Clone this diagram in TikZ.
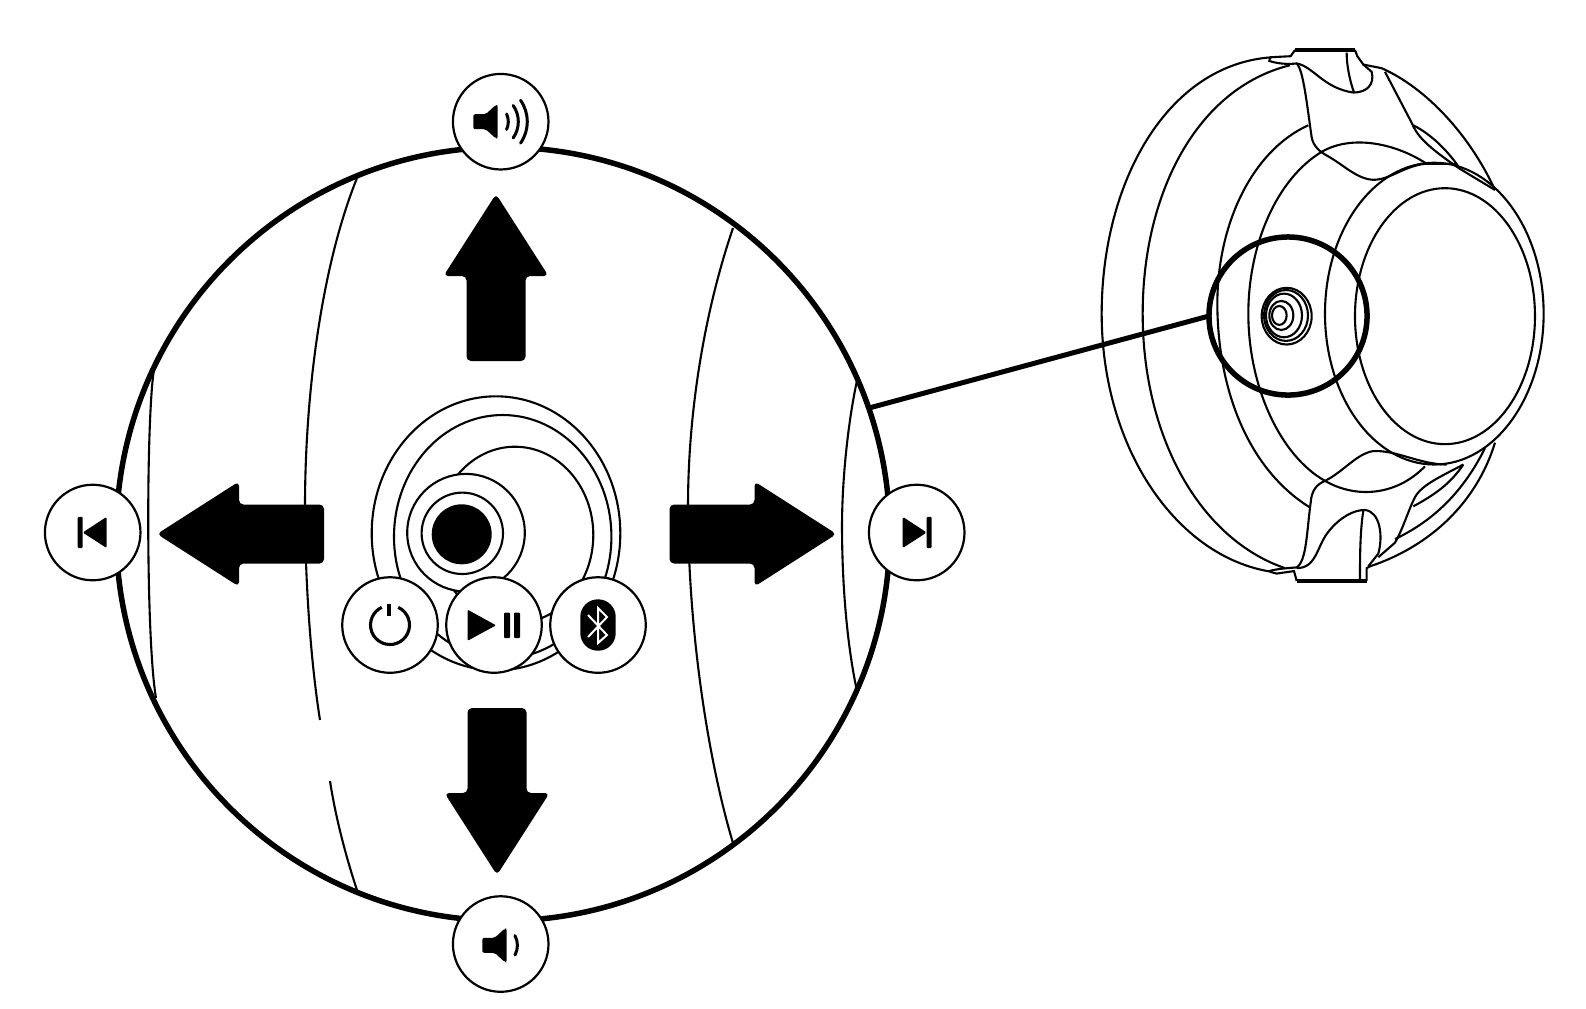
\documentclass[tikz,border=0pt]{standalone}
\usetikzlibrary{shapes,arrows,positioning,calc}

\tikzset{
    % speaker cone, drawn around the button centre
    speakercone/.pic={
        \fill[rounded corners=0.02cm] (-27.4,-7.5) -- (-15,-7.5) -- (-5,-16.7) -- (-3,-16.7) -- (-3,16.7) -- (-5,16.7) -- (-15,7.5) -- (-27.4,7.5) -- cycle;
    },
    skipicon/.pic={
        \fill[rounded corners=0.015cm] (-14,-15.7) -- (10,0) -- (-14,15.5) -- cycle;
        \fill[rounded corners=0.01cm] (10,-15.7) rectangle (15,15.5);
    },
    % tip at the origin, body below it
    bigarrow/.pic={
        \fill[rounded corners=0.045cm] (0,-2) -- (52.5,80) -- (29.5,80) -- (29.5,165) -- (-29.5,165) -- (-29.5,80) -- (-52.5,80) -- cycle;
    }
}

\begin{document}
\begin{tikzpicture}[
    x=0.01cm, y=-0.01cm,
    zoomview/.style={circle, draw, line width=0.055cm, minimum size=7.73cm, inner sep=0pt, outer sep=0pt},
    lensview/.style={circle, draw, line width=0.055cm, minimum size=1.58cm, inner sep=0pt, outer sep=0pt},
    roundbtn/.style={circle, draw, line width=0.022cm, fill=white, minimum size=0.955cm, inner sep=0pt, outer sep=0pt},
    fineline/.style={line width=0.021cm},
    wave/.style={line width=0.03cm, line cap=round}
]

    \path[fill=white, use as bounding box] (0,0) rectangle (1586,1008);

    % Enlarged view
    \node[zoomview] (bigview) at (503,534) {};

    % Seams in the enlarged view
    \draw[fineline] (154,369) .. controls (146,420) and (146,640) .. (156,698);
    \draw[fineline] (357,178) .. controls (320,270) and (305,400) .. (305,506) .. controls (305,590) and (312,670) .. (320,720);
    \draw[fineline] (330,781) .. controls (336,820) and (347,860) .. (357,890);
    \draw[fineline] (733,228) .. controls (705,310) and (688,410) .. (688,506) .. controls (688,630) and (708,760) .. (733,843);
    \draw[fineline] (858,376) .. controls (848,420) and (842,480) .. (842,526) .. controls (842,590) and (848,650) .. (857,691);

    % Arrows
    \pic at (496,196) {bigarrow};
    \pic[rotate=180] at (497,873) {bigarrow};
    \pic[rotate=90] at (159,534) {bigarrow};
    \pic[rotate=-90] at (834.5,534) {bigarrow};

    % Joystick rings
    \draw[fineline] (496,533.3) ellipse [x radius=124.3, y radius=137];
    \draw[fineline] (502.7,536.7) ellipse [x radius=108.7, y radius=121.7];
    \draw[fineline] (515,535) ellipse [x radius=78.3, y radius=88.3];
    \draw[fineline, fill=white] (466,532.7) circle [radius=58.8];
    \draw[fineline] (462.3,533.3) circle [radius=40.7];
    \fill (461.7,534.3) circle [radius=30];

    % Edge buttons
    \node[roundbtn] (volup) at (500.7,121.7) {};
    \node[roundbtn] (voldown) at (500.7,944) {};
    \node[roundbtn] (prevbtn) at (92.7,532.5) {};
    \node[roundbtn] (nextbtn) at (916.7,532.5) {};

    \pic at (volup) {speakercone};
    \foreach \rad/\ang in {18.3/25, 28.3/35, 37.3/35}
        \draw[wave] ($(volup)+(-10.7,0)$) ++(-\ang:\rad) arc[start angle=-\ang, end angle=\ang, radius=\rad];
    \pic at ($(voldown)+(9,1.3)$) {speakercone};
    \draw[wave] ($(voldown)+(-4,1.3)$) ++(-28:20.7) arc[start angle=-28, end angle=28, radius=20.7];

    \pic[xscale=-1] at (prevbtn) {skipicon};
    \pic at (nextbtn) {skipicon};

    % Centre buttons
    \node[roundbtn] (powerbtn) at (390,625) {};
    \node[roundbtn] (playbtn) at (494,625) {};
    \node[roundbtn] (btbtn) at (598,625) {};

    \draw[line width=0.031cm] ($(powerbtn)+(-65:19.5)$) arc[start angle=-65, end angle=245, radius=19.5];
    \draw[line width=0.034cm] ($(powerbtn)+(-1,-21)$) -- ($(powerbtn)+(-1,-9)$);

    \fill[rounded corners=0.01cm] ($(playbtn)+(-26.3,-15.3)$) -- ($(playbtn)+(2,0.3)$) -- ($(playbtn)+(-26.3,15.7)$) -- cycle;
    \fill[rounded corners=0.01cm] ($(playbtn)+(10,-12.5)$) rectangle ($(playbtn)+(16,13)$);
    \fill[rounded corners=0.01cm] ($(playbtn)+(20,-12.5)$) rectangle ($(playbtn)+(26,13)$);

    \fill[rounded corners=0.175cm] ($(btbtn)+(-17.7,-25.7)$) rectangle ($(btbtn)+(17.7,25.7)$);
    \draw[white, line width=0.02cm] ($(btbtn)+(-10,-10)$) -- ($(btbtn)+(9,10)$) -- ($(btbtn)+(0,18)$) -- ($(btbtn)+(0,-17)$) -- ($(btbtn)+(9,-8)$) -- ($(btbtn)+(-10,12)$);

    % Device body
    \begin{scope}[shift={(1080,30)}, xscale=0.3333, yscale=0.3636, fineline]
        \draw (575,75) .. controls (260,95) and (65,420) .. (65,780) .. controls (65,1150) and (290,1450) .. (575,1490);
        \draw (630,97) .. controls (350,160) and (188,450) .. (188,780) .. controls (188,1120) and (360,1400) .. (615,1480);
        \draw (685,262) .. controls (520,330) and (410,530) .. (412,760) .. controls (415,1000) and (510,1210) .. (688,1312);
        \draw (1035,365) .. controls (950,315) and (820,285) .. (725,335) .. controls (590,410) and (505,590) .. (505,780) .. controls (505,980) and (600,1170) .. (735,1240) .. controls (830,1290) and (950,1280) .. (1035,1200);
        \draw (905,105) .. controls (1040,160) and (1170,290) .. (1245,440);
        \draw (1245,1135) .. controls (1190,1300) and (1050,1420) .. (870,1475);

        % Dome
        \draw (1063,780) ellipse [x radius=328, y radius=415];
        \draw (1095,787) ellipse [x radius=270, y radius=352];

        % Top clamp
        \draw (570,75) -- (632,72) -- (645,55);
        \draw[line width=0.04cm] (645,55) -- (825,55);
        \draw (825,55) -- (832,72) -- (850,95) -- (905,105);
        \draw (570,75) -- (568,85) .. controls (590,92) and (620,95) .. (650,92) .. controls (670,110) and (680,200) .. (695,295) .. controls (700,320) and (720,335) .. (740,345) .. controls (790,370) and (830,410) .. (880,412) .. controls (930,412) and (970,375) .. (1035,368) -- (1130,368);
        \draw (650,92) .. controls (700,100) and (730,160) .. (820,172) .. controls (860,172) and (885,150) .. (875,115) -- (850,95);
        \draw (800,62) .. controls (800,100) and (810,140) .. (822,172);
        \draw (915,115) -- (995,255) .. controls (1010,290) and (1040,320) .. (1140,382);
        \draw (1000,262) .. controls (1060,290) and (1110,340) .. (1140,382) -- (1245,440);

        % Bottom clamp
        \draw (570,1490) -- (590,1495) -- (642,1488) -- (650,1515);
        \draw[line width=0.04cm] (650,1515) -- (860,1515);
        \draw (860,1515) -- (860,1480) -- (870,1475);
        \draw (568,1488) .. controls (590,1482) and (620,1480) .. (650,1478) .. controls (680,1460) and (680,1380) .. (692,1300) .. controls (695,1265) and (710,1250) .. (735,1240) .. controls (790,1215) and (830,1165) .. (880,1158) .. controls (950,1155) and (1020,1195) .. (1100,1195);
        \draw (650,1480) .. controls (710,1480) and (710,1420) .. (745,1380) .. controls (780,1340) and (820,1320) .. (855,1320) .. controls (900,1325) and (910,1390) .. (895,1440) -- (865,1475);
        \draw (850,1322) .. controls (840,1380) and (840,1450) .. (840,1510);
        \draw (895,1450) -- (945,1410) .. controls (970,1370) and (985,1320) .. (1005,1285) .. controls (1025,1250) and (1090,1225) .. (1150,1195);
        \draw (1000,1310) .. controls (1060,1280) and (1110,1250) .. (1150,1195);
        \draw (945,1400) .. controls (1060,1350) and (1150,1270) .. (1215,1150);

        % Knob
        \draw (620,787) ellipse [x radius=75, y radius=78];
        \draw (618,785) ellipse [x radius=66, y radius=70];
        \draw (612,785) ellipse [x radius=54, y radius=60];
        \draw (604,785) ellipse [x radius=36, y radius=40];
        \draw (598,785) ellipse [x radius=22, y radius=26];
    \end{scope}

    % Lens and leader
    \node[lensview] (lens) at (1288,316) {};
    \draw[line width=0.05cm] (bigview.19) -- (lens.west);

\end{tikzpicture}
\end{document}
